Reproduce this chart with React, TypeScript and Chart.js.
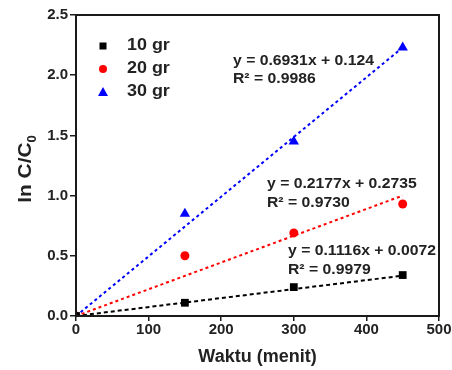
import React, { useEffect, useRef } from "react";
import { Chart, registerables } from "chart.js";

Chart.register(...registerables);

const seriesNames = ["10 gr", "20 gr", "30 gr"];
const times = [0, 150, 300, 450];
const values10 = [0, 0.11, 0.24, 0.34];
const values20 = [0, 0.5, 0.69, 0.93];
const values30 = [0, 0.85, 1.45, 2.23];
const trendX = [0, 450];
const trend10 = [0, 0.335];
const trend20 = [0, 1.0];
const trend30 = [0, 2.23];
const equations = [
  ["y = 0.1116x + 0.0072", "R² = 0.9979"],
  ["y = 0.2177x + 0.2735", "R² = 0.9730"],
  ["y = 0.6931x + 0.124", "R² = 0.9986"],
];
const colors = ["#000000", "#ff0000", "#0000ff"];
const markers = ["rect", "circle", "triangle"];
const xTitle = "Waktu (menit)";

const FONT = "Arial, 'Liberation Sans', sans-serif";

export default function App() {
  const ref = useRef<HTMLCanvasElement>(null);
  useEffect(() => {
    document.body.style.margin = "0";
    const canvas = ref.current!;
    const allVals = [values10, values20, values30];
    const trends = [trend10, trend20, trend30];
    const trendDash = [[4, 3], [3, 3], [3, 3]];
    const radii = [5.5, 4.5, 6];
    const pointDatasets = allVals.map((vals, i) => ({
      label: seriesNames[i],
      data: times.map((t, j) => ({ x: t, y: vals[j] })),
      showLine: false,
      pointStyle: markers[i],
      pointRadius: radii[i],
      backgroundColor: colors[i],
      borderColor: colors[i],
      borderWidth: 0,
      order: 1,
    }));
    const trendDatasets = trends.map((tv, i) => ({
      label: seriesNames[i] + " trend",
      data: trendX.map((t, j) => ({ x: t, y: tv[j] })),
      showLine: true,
      pointRadius: 0,
      borderColor: colors[i],
      borderWidth: 2,
      borderDash: trendDash[i],
      order: 2,
    }));

    const eqPos = [
      [288, 251, 270],
      [267, 184, 203],
      [233, 61, 79],
    ];
    const legendRows = [46, 69, 92];

    const stretchText = (ctx: any, text: string, x: number, y: number, sx: number) => {
      ctx.save();
      ctx.translate(x, y);
      ctx.scale(sx, 1);
      ctx.fillText(text, 0, 0);
      ctx.restore();
    };

    const overlay = {
      id: "overlay",
      afterDraw(chart: any) {
        const ctx = chart.ctx;
        const a = chart.chartArea;
        ctx.save();
        ctx.strokeStyle = "#1a1a1a";
        ctx.lineWidth = 2;
        ctx.strokeRect(a.left, a.top, a.right - a.left, a.bottom - a.top);
        // equations
        ctx.fillStyle = "#222";
        ctx.font = "bold 15px " + FONT;
        ctx.textBaseline = "middle";
        ctx.textAlign = "left";
        equations.forEach((eq, i) => {
          stretchText(ctx, eq[0], eqPos[i][0], eqPos[i][1], 1.05);
          stretchText(ctx, eq[1], eqPos[i][0], eqPos[i][2], 1.05);
        });
        // legend
        ctx.font = "bold 16px " + FONT;
        seriesNames.forEach((name, i) => {
          const y = legendRows[i];
          const x = 103;
          ctx.fillStyle = colors[i];
          if (i === 0) {
            ctx.fillRect(x - 3.5, y - 3.5, 7, 7);
          } else if (i === 1) {
            ctx.beginPath();
            ctx.arc(x, y, 4, 0, Math.PI * 2);
            ctx.fill();
          } else {
            ctx.beginPath();
            ctx.moveTo(x, y - 5);
            ctx.lineTo(x + 5, y + 4);
            ctx.lineTo(x - 5, y + 4);
            ctx.closePath();
            ctx.fill();
          }
          ctx.fillStyle = "#222";
          stretchText(ctx, name, 127, y, 1.12);
        });
        // x title
        ctx.font = "bold 18px " + FONT;
        ctx.textAlign = "center";
        ctx.fillText(xTitle, (a.left + a.right) / 2, 357);
        // y title with subscript
        ctx.translate(26, 169);
        ctx.rotate(-Math.PI / 2);
        ctx.font = "bold 19px " + FONT;
        const main = "ln C/C";
        const sub = "0";
        const wMain = ctx.measureText(main).width * 1.1;
        ctx.font = "bold 13px " + FONT;
        const wSub = ctx.measureText(sub).width;
        const start = -(wMain + wSub) / 2;
        ctx.textAlign = "left";
        ctx.font = "bold 19px " + FONT;
        stretchText(ctx, main, start, 0, 1.1);
        ctx.font = "bold 13px " + FONT;
        ctx.fillText(sub, start + wMain, 6);
        ctx.restore();
      },
    };

    const chart = new Chart(canvas, {
      type: "scatter",
      data: { datasets: [...trendDatasets, ...pointDatasets] as any },
      options: {
        animation: false,
        responsive: false,
        layout: { padding: { top: 15, right: 13, left: 0, bottom: 0 } },
        plugins: { legend: { display: false }, tooltip: { enabled: false } },
        scales: {
          x: {
            type: "linear",
            min: 0,
            max: 500,
            ticks: {
              stepSize: 100,
              color: "#222",
              font: { family: FONT, size: 15, weight: "bold" },
              padding: 0,
            },
            grid: {
              drawOnChartArea: false,
              drawTicks: true,
              tickLength: 5,
              color: "#1a1a1a",
              lineWidth: 1.5,
            },
            border: { display: true, color: "#1a1a1a", width: 2 },
            afterFit: (s: any) => {
              s.height = 54;
            },
          },
          y: {
            type: "linear",
            min: 0,
            max: 2.5,
            ticks: {
              stepSize: 0.5,
              color: "#222",
              font: { family: FONT, size: 15, weight: "bold" },
              padding: 2,
              callback: (v: any) => Number(v).toFixed(1),
            },
            grid: {
              drawOnChartArea: false,
              drawTicks: true,
              tickLength: 6,
              color: "#1a1a1a",
              lineWidth: 1.5,
            },
            border: { display: true, color: "#1a1a1a", width: 2 },
            afterFit: (s: any) => {
              s.width = 76;
            },
          },
        },
      } as any,
      plugins: [overlay],
    });
    return () => chart.destroy();
  }, []);
  return <canvas ref={ref} width={452} height={370} style={{ display: "block" }} />;
}
